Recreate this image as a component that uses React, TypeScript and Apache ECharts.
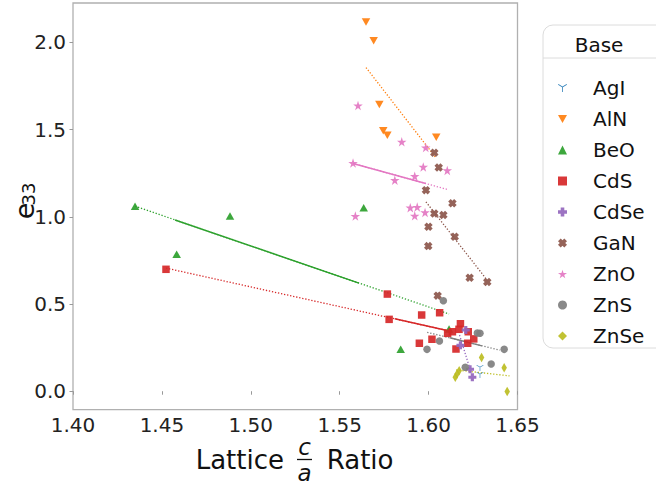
import React, { useEffect, useRef } from "react";
import * as echarts from "echarts";

// ---- categories ----
const bases = ["AgI", "AlN", "BeO", "CdS", "CdSe", "GaN", "ZnO", "ZnS", "ZnSe"];
const colors = ["#1f77b4", "#ff7f0e", "#2ca02c", "#d62728", "#9467bd", "#8c564b", "#e377c2", "#7f7f7f", "#bcbd22"];

// ---- scatter data (c/a ratio, e33) ----
const agiX = [1.6289, 1.6289];
const agiY = [0.133, 0.093];
const alnX = [1.5648, 1.5691, 1.5723, 1.5745, 1.5768, 1.6043];
const alnY = [2.117, 2.01, 1.644, 1.493, 1.468, 1.456];
const beoX = [1.4349, 1.4583, 1.4883, 1.5635, 1.5843, 1.6115];
const beoY = [1.061, 0.786, 1.004, 1.052, 0.24, 0.357];
const cdsX = [1.4523, 1.5768, 1.5778, 1.5961, 1.6062, 1.5948, 1.6019, 1.6107, 1.6134, 1.6179, 1.6171, 1.6223, 1.6254, 1.622, 1.6154];
const cdsY = [0.699, 0.557, 0.412, 0.437, 0.45, 0.275, 0.298, 0.332, 0.341, 0.387, 0.355, 0.341, 0.3, 0.275, 0.242];
const cdseX = [1.6209, 1.6179, 1.6233, 1.6246];
const cdseY = [0.351, 0.263, 0.126, 0.08];
const ganX = [1.6032, 1.6057, 1.5985, 1.6134, 1.6032, 1.6083, 1.5999, 1.6147, 1.5998, 1.6231, 1.633, 1.6051];
const ganY = [1.367, 1.283, 1.153, 1.078, 1.019, 1.01, 0.943, 0.886, 0.832, 0.651, 0.626, 0.548];
const znoX = [1.5603, 1.5849, 1.5984, 1.5575, 1.597, 1.6105, 1.5922, 1.581, 1.5897, 1.5936, 1.5922, 1.598, 1.5588];
const znoY = [1.638, 1.43, 1.397, 1.308, 1.286, 1.266, 1.233, 1.21, 1.052, 1.056, 1.006, 1.025, 1.004];
const znsX = [1.6083, 1.6274, 1.6289, 1.6061, 1.5991, 1.6425, 1.6352, 1.6206];
const znsY = [0.519, 0.334, 0.332, 0.288, 0.24, 0.24, 0.156, 0.137];
const znseX = [1.6298, 1.6425, 1.6442, 1.6172, 1.616, 1.615];
const znseY = [0.193, 0.135, -0.002, 0.118, 0.098, 0.08];

// ---- trend lines: dotted full extent, solid sub-range ----
const fitBases = ["AlN", "BeO", "CdS", "CdSe", "GaN", "ZnO", "ZnS", "ZnSe"];
const fitX = [[1.5648, 1.6043], [1.4349, 1.6115], [1.4523, 1.611], [1.6174, 1.624], [1.5985, 1.633], [1.5575, 1.6105], [1.5992, 1.6401], [1.6155, 1.6455]];
const fitY = [[1.856, 1.336], [1.061, 0.443], [0.706, 0.347], [0.322, 0.103], [1.086, 0.636], [1.306, 1.157], [0.338, 0.235], [0.122, 0.088]];
const solidBases = ["BeO", "CdS", "ZnO", "ZnS"];
const solidX = [[1.4574, 1.5608], [1.581, 1.611], [1.5575, 1.5984], [1.612, 1.63]];
const solidY = [[0.982, 0.62], [0.415, 0.347], [1.306, 1.191], [0.306, 0.26]];

// ---- ticks ----
const xTicks = [1.4, 1.45, 1.5, 1.55, 1.6, 1.65];
const yTicks = [0, 0.5, 1, 1.5, 2];

const FONT = "DejaVu Sans";

const seriesX = [agiX, alnX, beoX, cdsX, cdseX, ganX, znoX, znsX, znseX];
const seriesY = [agiY, alnY, beoY, cdsY, cdseY, ganY, znoY, znsY, znseY];

const symbols: any[] = [
  "path://M4.6,10L5.4,10L5.4,5.2L9.5,2.8L9.1,2.1L5,4.5L0.9,2.1L0.5,2.8L4.6,5.2Z",
  "path://M0,0L10,0L5,8.66Z",
  "triangle",
  "rect",
  "path://M3,0H7V3H10V7H7V10H3V7H0V3H3Z",
  "path://M3,0L5,2L7,0L10,3L8,5L10,7L7,10L5,8L3,10L0,7L2,5L0,3Z",
  "path://M50,0L61.2,34.5L97.6,34.5L68.2,55.9L79.4,90.5L50,69.1L20.6,90.5L31.8,55.9L2.4,34.5L38.8,34.5Z",
  "circle",
  "diamond",
];
const sizes: any[] = [[7, 7], [8.5, 7.5], [8.5, 7.5], 7.5, 8, 8.5, 9.5, 7.5, [5.5, 9.5]];

export default function App() {
  const ref = useRef<HTMLDivElement>(null);
  useEffect(() => {
    document.body.style.margin = "0";
    const chart = echarts.init(ref.current!, null, { renderer: "svg" });
    const colorOf = (b: string) => colors[bases.indexOf(b)];

    const series: any[] = [];
    fitBases.forEach((b, i) => {
      series.push({
        name: b + " fit",
        type: "line",
        data: fitX[i].map((x, j) => [x, fitY[i][j]]),
        symbol: "none",
        lineStyle: { color: colorOf(b), width: 1.3, type: [1.3, 1.8] },
        z: 1,
        silent: true,
      });
    });
    solidBases.forEach((b, i) => {
      series.push({
        name: b + " solid",
        type: "line",
        data: solidX[i].map((x, j) => [x, solidY[i][j]]),
        symbol: "none",
        lineStyle: { color: colorOf(b), width: 1.5, type: "solid" },
        z: 1,
        silent: true,
      });
    });
    bases.forEach((b, i) => {
      series.push({
        name: b,
        type: "scatter",
        data: seriesX[i].map((x, j) => [x, seriesY[i][j]]),
        symbol: symbols[i],
        symbolSize: sizes[i],
        symbolKeepAspect: i === 0,
        itemStyle: { color: colors[i], opacity: 0.92 },
        z: 2,
      });
    });

    chart.setOption({
      animation: false,
      grid: {
        left: 73,
        top: 3,
        width: 444.5,
        height: 406.7,
        show: true,
        borderColor: "#b0b0b0",
        borderWidth: 1.3,
        containLabel: false,
        outerBoundsMode: "none",
      },
      xAxis: {
        type: "value",
        min: 1.4,
        max: 1.65,
        axisLine: { show: false },
        splitLine: { show: false },
        axisTick: { show: true, length: 3.5, lineStyle: { color: "#999" }, customValues: xTicks },
        axisLabel: {
          customValues: xTicks,
          formatter: (v: number) => v.toFixed(2),
          fontSize: 20,
          fontFamily: FONT,
          color: "#222",
          margin: 5,
        },
      },
      yAxis: {
        type: "value",
        min: -0.106,
        max: 2.226,
        axisLine: { show: false },
        splitLine: { show: false },
        axisTick: { show: true, length: 3.5, lineStyle: { color: "#999" }, customValues: yTicks },
        axisLabel: {
          customValues: yTicks,
          formatter: (v: number) => v.toFixed(1),
          fontSize: 20,
          fontFamily: FONT,
          color: "#222",
          margin: 7,
        },
      },
      legend: {
        data: bases,
        orient: "vertical",
        left: 553,
        top: 73,
        itemWidth: 9,
        itemHeight: 9,
        itemGap: 11,
        selectedMode: false,
        textStyle: { fontSize: 20, fontFamily: FONT, color: "#111", padding: [0, 0, 0, 21], lineHeight: 20 },
        z: 10,
      },
      graphic: [
        {
          type: "rect",
          shape: { x: 543, y: 25, width: 140, height: 323, r: 10 },
          style: { fill: "#fff", stroke: "#dcdcdc", lineWidth: 1 },
          z: 0,
          silent: true,
        },
        {
          type: "line",
          shape: { x1: 543, y1: 58, x2: 656, y2: 58 },
          style: { stroke: "#dcdcdc", lineWidth: 1 },
          z: 1,
          silent: true,
        },
        {
          type: "text",
          x: 599,
          y: 45,
          style: { text: "Base", fontSize: 20, fontFamily: FONT, fill: "#111", align: "center", verticalAlign: "middle" },
          z: 1,
        },
        {
          type: "text",
          x: 284,
          y: 460,
          style: { text: "Lattice", fontSize: 26, fontFamily: FONT, fill: "#111", align: "right", verticalAlign: "middle" },
        },
        {
          type: "text",
          x: 304.5,
          y: 447,
          style: { text: "c", fontSize: 23, fontStyle: "italic", fontFamily: FONT, fill: "#111", align: "center", verticalAlign: "middle" },
        },
        {
          type: "line",
          shape: { x1: 297, y1: 459.5, x2: 312, y2: 459.5 },
          style: { stroke: "#111", lineWidth: 1.3 },
        },
        {
          type: "text",
          x: 304.5,
          y: 472.5,
          style: { text: "a", fontSize: 23, fontStyle: "italic", fontFamily: FONT, fill: "#111", align: "center", verticalAlign: "middle" },
        },
        {
          type: "text",
          x: 326.7,
          y: 460,
          style: { text: "Ratio", fontSize: 26, fontFamily: FONT, fill: "#111", align: "left", verticalAlign: "middle" },
        },
        {
          type: "text",
          x: 24,
          y: 211,
          rotation: Math.PI / 2,
          style: { text: "e", fontSize: 27, fontFamily: FONT, fill: "#111", align: "center", verticalAlign: "middle" },
        },
        {
          type: "text",
          x: 28,
          y: 194,
          rotation: Math.PI / 2,
          style: { text: "33", fontSize: 18, fontFamily: FONT, fill: "#111", align: "center", verticalAlign: "middle" },
        },
      ],
      series,
    });
    return () => chart.dispose();
  }, []);
  return <div ref={ref} style={{ width: 656, height: 485 }} />;
}
